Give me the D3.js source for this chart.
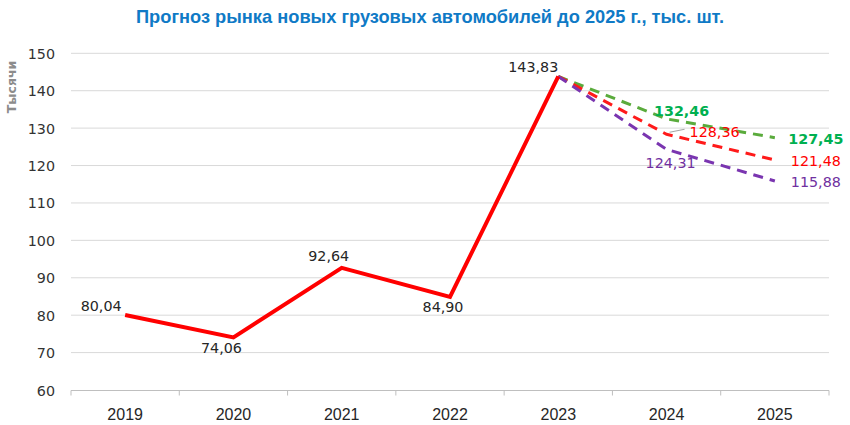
<!DOCTYPE html>
<html><head><meta charset="utf-8">
<script src="https://cdn.jsdelivr.net/npm/d3@7"></script>
<style>body{margin:0;background:#fff}svg{display:block}</style>
</head><body>
<script>
const years = ["2019","2020","2021","2022","2023","2024","2025"];
const actual = [80.04, 74.06, 92.64, 84.90, 143.83];
const forecastYears = ["2023","2024","2025"];
const fcGreen = [143.83, 132.46, 127.45];
const fcRed = [143.83, 128.36, 121.48];
const fcPurple = [143.83, 124.31, 115.88];
const yTicks = [60,70,80,90,100,110,120,130,140,150];
const title = "Прогноз рынка новых грузовых автомобилей до 2025 г., тыс. шт.";
const yLabel = "Тысячи";

const W=850,H=425;
const svg=d3.select("body").append("svg").attr("width",W).attr("height",H);
const x=d3.scalePoint().domain(years).range([71,829]).padding(0.5);
const y=d3.scaleLinear().domain([60,150]).range([390,53.3]);

// title
svg.append("text").attr("x",430).attr("y",22.5).attr("text-anchor","middle")
  .attr("font-family","'Liberation Sans Narrow','Arial Narrow','Liberation Sans',sans-serif")
  .attr("font-weight","bold").attr("font-size",18.5).attr("fill","#0F7AC6")
  .attr("textLength",588).attr("lengthAdjust","spacingAndGlyphs").text(title);

// gridlines
svg.append("g").selectAll("line").data(yTicks.filter(d=>d>60)).join("line")
  .attr("x1",71).attr("x2",829).attr("y1",d=>y(d)).attr("y2",d=>y(d))
  .attr("stroke","#d9d9d9").attr("stroke-width",1);

// y axis labels
const ya=d3.axisLeft(y).tickValues(yTicks).tickSize(0).tickPadding(0);
const gy=svg.append("g").attr("transform","translate(55,0)").call(ya);
gy.select(".domain").remove();
gy.selectAll("text").attr("font-family","'DejaVu Sans',Verdana,sans-serif").attr("font-size",14.3).attr("fill","#333").attr("dy","0.35em");

svg.append("text").attr("transform","translate(16,87) rotate(-90)").attr("text-anchor","middle")
  .attr("font-family","'DejaVu Sans',sans-serif").attr("font-size",12.5).attr("font-weight","bold")
  .attr("fill","#8c8c8c").text(yLabel);

// x axis
const xb=d3.scaleBand().domain(years).range([71,829]);
const gx=svg.append("g").attr("transform","translate(0,390.5)");
gx.append("line").attr("x1",71).attr("x2",829).attr("stroke","#bfbfbf");
gx.selectAll("line.t").data(d3.range(years.length+1)).join("line").attr("class","t")
  .attr("x1",i=>71+i*xb.step()).attr("x2",i=>71+i*xb.step()).attr("y1",0).attr("y2",5).attr("stroke","#bfbfbf");
gx.selectAll("text").data(years).join("text").attr("x",d=>x(d)).attr("y",29.5).attr("text-anchor","middle")
  .attr("font-family","'Liberation Sans',Arial,sans-serif").attr("font-size",16).attr("fill","#262626").text(d=>d);

// forecast dashed lines
const line=d3.line().x(d=>x(d[0])).y(d=>y(d[1]));
const fcs=[{v:fcGreen,c:"#5aab3c"},{v:fcRed,c:"#ff1a1a"},{v:fcPurple,c:"#7a35b0"}];
fcs.forEach(f=>{
  svg.append("path").datum(forecastYears.map((yr,i)=>[yr,f.v[i]])).attr("d",line)
   .attr("fill","none").attr("stroke",f.c).attr("stroke-width",3).attr("stroke-dasharray","10,7");
});

// actual line
svg.append("path").datum(years.slice(0,5).map((yr,i)=>[yr,actual[i]])).attr("d",line)
  .attr("fill","none").attr("stroke","#ff0000").attr("stroke-width",4).attr("stroke-linejoin","miter");

// labels
const fmt=v=>v.toFixed(2).replace(".",",");
const lf="'DejaVu Sans',Verdana,sans-serif";
const fs=14.3;
const actOff=[[-24,-4],[-12,16],[-13,-7],[-7,15],[-25,-4]];
actual.forEach((v,i)=>{
  svg.append("text").attr("x",x(years[i])+actOff[i][0]).attr("y",y(v)+actOff[i][1]).attr("text-anchor","middle")
   .attr("font-family",lf).attr("font-size",fs).attr("fill","#262626").text(fmt(v));
});
// leader line for red 2024
svg.append("line").attr("x1",x("2024")+3).attr("y1",y(fcRed[1])-2).attr("x2",x("2024")+18).attr("y2",y(fcRed[1])-5)
  .attr("stroke","#a6a6a6").attr("stroke-width",1.2);
const fcLab=[
  {v:fcGreen,c:"#00b050",w:"bold",o:[[15,-3],[41,6]]},
  {v:fcRed,c:"#ff0000",w:"normal",o:[[48,3],[41,6]]},
  {v:fcPurple,c:"#7030a0",w:"normal",o:[[4,19],[41,6]]}
];
fcLab.forEach(f=>{
  [1,2].forEach((k,j)=>{
    svg.append("text").attr("x",x(forecastYears[k])+f.o[j][0]).attr("y",y(f.v[k])+f.o[j][1]).attr("text-anchor","middle")
     .attr("font-family",lf).attr("font-size",fs).attr("font-weight",f.w).attr("fill",f.c).text(fmt(f.v[k]));
  });
});
</script>
</body></html>
